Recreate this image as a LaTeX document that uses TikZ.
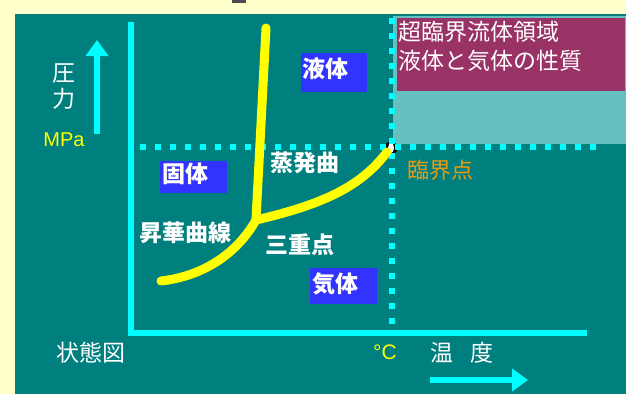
\documentclass[tikz,border=0pt]{standalone}
\usepackage{fontspec}
\setmainfont{Liberation Sans}
\newfontfamily\jp{Noto Sans CJK JP}
\usetikzlibrary{arrows.meta}
\definecolor{bgyellow}{HTML}{FFFFCC}
\definecolor{panel}{HTML}{007F7F}
\definecolor{lteal}{HTML}{66C0C0}
\definecolor{plum}{HTML}{993366}
\definecolor{axcyan}{HTML}{00FFFF}
\definecolor{curvey}{HTML}{FFFF00}
\definecolor{boxblue}{HTML}{3333FF}
\definecolor{crit}{HTML}{E89A10}
\tikzset{
  axisline/.style={draw=axcyan, line width=6.5pt, line join=miter},
  dotline/.style={draw=axcyan, line width=6pt, dash pattern=on 6pt off 9pt},
  phase/.style={draw=curvey, line width=9pt, line cap=round},
  bigarrow/.style={draw=axcyan, fill=axcyan, line width=6pt, -{Triangle[width=22pt,length=16pt]}},
  jlabel/.style={anchor=west, inner sep=0pt, text=white, font=\jp\fontsize{23}{23}\selectfont},
  jbold/.style={jlabel, font=\jp\bfseries\fontsize{23}{23}\selectfont},
  statebox/.style={fill=boxblue, anchor=north west, inner sep=0pt}
}
\begin{document}
\begin{tikzpicture}[x=1pt,y=-1pt]
\useasboundingbox (0,0) rectangle (626,394);
\fill[bgyellow] (0,0) rectangle (626,394);
\fill[panel] (15,14) rectangle (626,394);
\fill[black!70] (232,0) rectangle (246,3);
% supercritical region
\fill[lteal] (393,16) rectangle (626,144);
\fill[plum] (397,18) rectangle (625,91);
\node[jlabel] (sc1) at (398,32) {超臨界流体領域};
\node[jlabel] (sc2) at (398,61) {液体と気体の性質};
% state boxes
\fill[boxblue] (301,53) rectangle (367,92);
\fill[boxblue] (160,161) rectangle (227,193);
\fill[boxblue] (310,268) rectangle (377,304);
\node[jbold] (liq) at (302,69) {液体};
\node[jbold] (sol) at (162,174) {固体};
\node[jbold] (gas) at (312,284) {気体};
% axes
\coordinate (ytop) at (131,22);
\coordinate (orig) at (131,333);
\coordinate (xend) at (587,333);
\draw[axisline] (ytop) -- (orig) -- (xend);
% critical point marker
\coordinate (cp) at (391,148);
\fill[black] (cp) circle (6.5);
\fill[white] (cp) ellipse (3 and 5);
% dotted lines
\coordinate (hl) at (140,147);
\coordinate (hr) at (596,147);
\coordinate (vt) at (392,18);
\coordinate (vb) at (392,330);
\draw[dotline] (hl) -- (hr);
\draw[dotline] (vt) -- (vb);
% phase curves
\coordinate (tp) at (256,220);
\coordinate (mtop) at (266,28);
\coordinate (sub) at (161,281);
\coordinate (cpend) at (387,152);
\draw[phase] (tp) -- (mtop);
\draw[phase] (tp) .. controls (320,205) and (360,188) .. (cpend);
\draw[phase] (sub) .. controls (205,276) and (238,252) .. (tp);
% curve labels
\node[jbold] (evap) at (270,163) {蒸発曲};
\node[jbold] (subl) at (139,233) {昇華曲線};
\node[jbold] (triple) at (265,245) {三重点};
\node[jlabel, text=crit, font=\jp\fontsize{22}{22}\selectfont] (critl) at (407,170) {臨界点};
% pressure axis labels
\coordinate (pa0) at (97,134);
\coordinate (pa1) at (97,40);
\draw[bigarrow] (pa0) -- (pa1);
\node[jlabel, anchor=center] (p1) at (64,73) {圧};
\node[jlabel, anchor=center] (p2) at (64,99) {力};
\node[anchor=center, inner sep=0pt, text=curvey, font=\fontsize{20}{20}\selectfont] (mpa) at (64,140) {MPa};
% bottom labels
\node[jlabel] (diag) at (56,353) {状態図};
\node[anchor=west, inner sep=0pt, text=curvey, font=\fontsize{21}{21}\selectfont] (degc) at (373,352) {°C};
\node[jlabel] (temp) at (430,353) {温\hspace{0.75em}度};
\coordinate (ta0) at (430,380);
\coordinate (ta1) at (528,380);
\draw[bigarrow] (ta0) -- (ta1);
\end{tikzpicture}
\end{document}
